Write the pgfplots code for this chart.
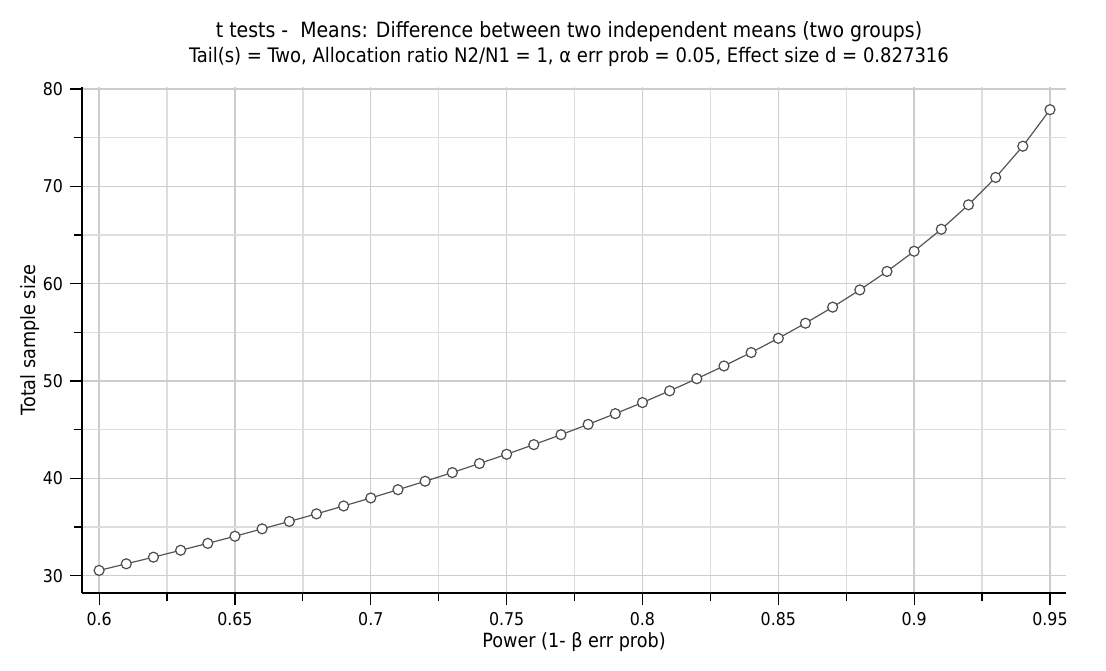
\documentclass[border=0pt]{standalone}
\usepackage{fontspec}
\setmainfont{DejaVu Sans Condensed}
\usepackage{pgfplots}
\pgfplotsset{compat=1.18}

\definecolor{gridmaj}{RGB}{205,205,205}
\definecolor{gridmin}{RGB}{222,222,222}
\definecolor{curve}{RGB}{85,85,85}

\begin{document}
\begin{tikzpicture}
\begin{axis}[
    scale only axis,
    width=492pt, height=253pt,
    xmin=0.5937, xmax=0.9559,
    ymin=28.23, ymax=80.2,
    axis lines*=left,
    axis line style={black, line width=0.6pt},
    tick align=outside,
    major tick length=6pt, minor tick length=4pt,
    tick style={black, line width=0.6pt},
    xtick={0.6,0.65,0.7,0.75,0.8,0.85,0.9,0.95},
    ytick={30,40,50,60,70,80},
    minor x tick num=1, minor y tick num=1,
    grid=both,
    major grid style={gridmaj, line width=0.7pt},
    minor grid style={gridmin, line width=0.7pt},
    xticklabel style={/pgf/number format/fixed, /pgf/number format/precision=2},
    /pgf/number format/assume math mode=true,
    ticklabel style={font=\fontsize{8.8}{10}\selectfont},
    label style={font=\fontsize{9.8}{11}\selectfont},
    xlabel={Power (1- β err prob)},
    ylabel={Total sample size},
    xlabel style={at={(axis description cs:0.5,-0.097)}, anchor=center},
    ylabel style={at={(axis description cs:-0.053,0.5)}, anchor=center},
    title={{\fontsize{10.5}{12.5}\selectfont t tests - \ Means: Difference between two independent means (two groups)}\\{\fontsize{10}{12.5}\selectfont Tail(s) = Two, Allocation ratio N2/N1 = 1, α err prob = 0.05, Effect size d = 0.827316}},
    title style={font=\fontsize{10}{12.5}\selectfont, align=center, at={(0.5,1)}, anchor=south, yshift=0.5pt, xshift=-2.5pt},
]
\addplot[color=curve, line width=0.6pt, mark=*, mark size=2.5pt,
    mark options={fill=white, draw=gray!60!black, line width=0.6pt}] coordinates {
(0.60,30.55) (0.61,31.23) (0.62,31.91) (0.63,32.62) (0.64,33.33)
(0.65,34.06) (0.66,34.82) (0.67,35.58) (0.68,36.36) (0.69,37.17)
(0.70,37.99) (0.71,38.84) (0.72,39.71) (0.73,40.60) (0.74,41.53)
(0.75,42.48) (0.76,43.47) (0.77,44.49) (0.78,45.55) (0.79,46.65)
(0.80,47.79) (0.81,48.99) (0.82,50.24) (0.83,51.55) (0.84,52.93)
(0.85,54.39) (0.86,55.94) (0.87,57.59) (0.88,59.36) (0.89,61.26)
(0.90,63.33) (0.91,65.59) (0.92,68.10) (0.93,70.91) (0.94,74.12)
(0.95,77.87)
};
\end{axis}
\pgfresetboundingbox
\path ([shift={(-41pt,-38.5pt)}]current axis.south west) rectangle ([shift={(20pt,43.5pt)}]current axis.north east);
\end{tikzpicture}
\end{document}
